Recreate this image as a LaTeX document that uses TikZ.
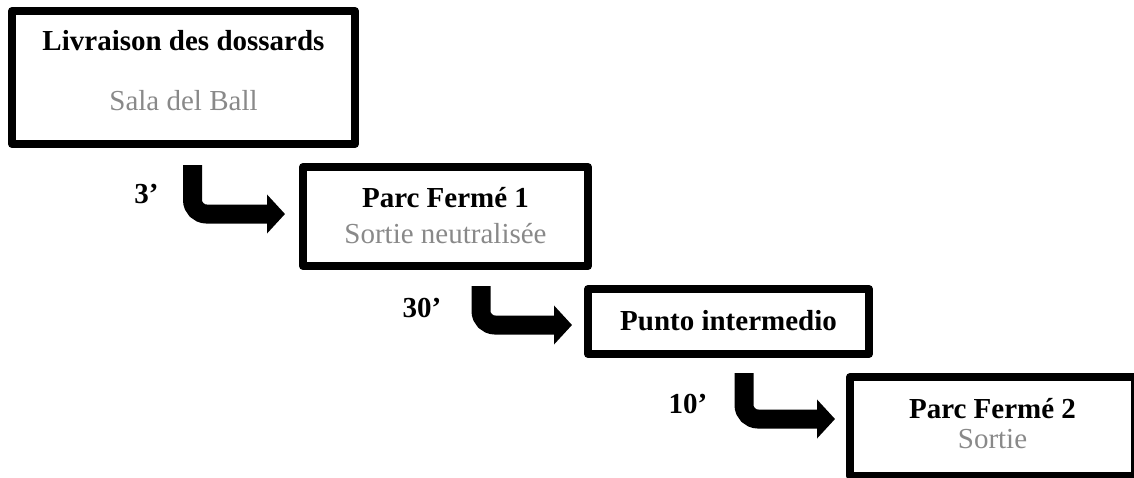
\documentclass[tikz,border=0pt]{standalone}
\usepackage{fontspec}
\setmainfont{Liberation Serif}
\usetikzlibrary{arrows.meta,positioning}
\definecolor{placegray}{RGB}{137,137,137}

\begin{document}
\begin{tikzpicture}[x=1pt,y=-1pt,
  stage/.style={draw,line width=8pt,line join=round,inner sep=0pt,outer sep=0pt},
  title/.style={anchor=base,font=\fontsize{29}{34}\selectfont\bfseries},
  place/.style={anchor=base,font=\fontsize{29}{34}\selectfont,text=placegray},
  delay/.style={anchor=base,font=\fontsize{29}{34}\selectfont\bfseries},
  flow/.style={line width=19pt,rounded corners=14pt,-{Triangle[length=18pt,width=38pt]}}]
\useasboundingbox (0,0) rectangle (1134,477);
\node[stage,minimum width=343pt,minimum height=133pt] (b1) at (183.5,77.5) {};
\node[stage,minimum width=285pt,minimum height=99pt] (b2) at (445.5,216.5) {};
\node[stage,minimum width=281pt,minimum height=65pt] (b3) at (728.5,321.5) {};
\node[stage,minimum width=285pt,minimum height=99pt] (b4) at (992.5,426.5) {};
\node[title] (t1) at (183.5,50) {Livraison des dossards};
\node[place] (s1) at (183.5,110) {Sala del Ball};
\node[title] (t2) at (445.5,207) {Parc Fermé 1};
\node[place] (s2) at (445.5,243) {Sortie neutralisée};
\node[title] (t3) at (728.5,330) {Punto intermedio};
\node[title] (t4) at (992.5,418) {Parc Fermé 2};
\node[place] (s4) at (992.5,448) {Sortie};
\node[delay] (d1) at (146.5,203) {3’};
\node[delay] (d2) at (422,317) {30’};
\node[delay] (d3) at (688,413) {10’};
\coordinate (a1) at (192.5,165);
\coordinate (a2) at (481,286);
\coordinate (a3) at (744,373);
\draw[flow] (a1) |- ([xshift=-18pt,yshift=2.5pt]b2.west);
\draw[flow] (a2) |- ([xshift=-16pt,yshift=-3.5pt]b3.west);
\draw[flow] (a3) |- ([xshift=-15pt,yshift=7.5pt]b4.west);
\end{tikzpicture}
\end{document}
